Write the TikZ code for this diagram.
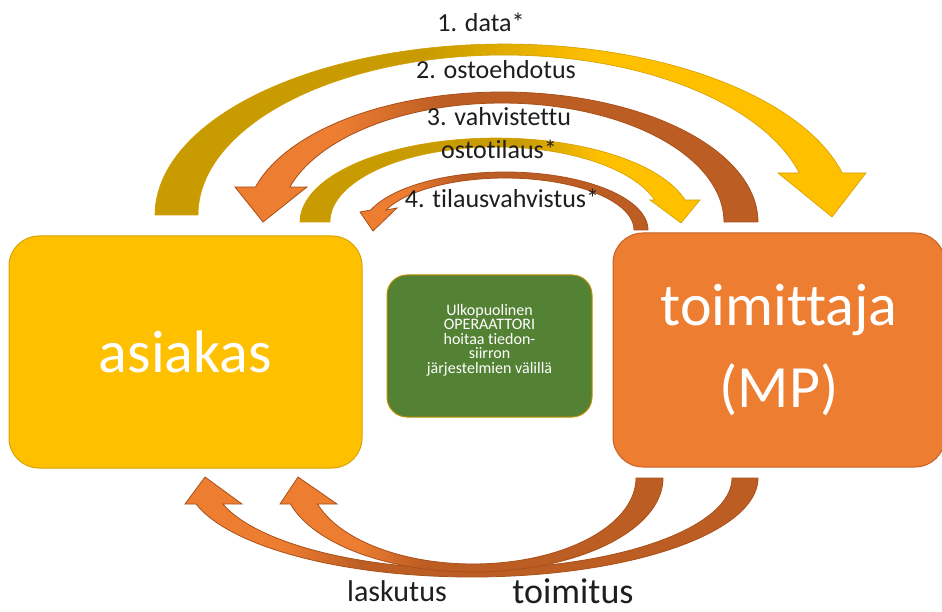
\documentclass[tikz,border=0pt]{standalone}
\usepackage{fontspec}
\setmainfont{Carlito}[Ligatures={NoCommon}]
\definecolor{gold}{HTML}{FFC000}
\definecolor{dgold}{HTML}{C89B00}
\definecolor{orng}{HTML}{ED7D31}
\definecolor{dorng}{HTML}{BC5D24}
\definecolor{olive}{HTML}{548235}
\definecolor{edgegold}{HTML}{BF9000}
\definecolor{edgeorng}{HTML}{A9501A}
\definecolor{lbltext}{HTML}{1E1E1E}
\pgfdeclarehorizontalshading{shA}{100bp}{color(0bp)=(dgold); color(44bp)=(dgold); color(56bp)=(gold); color(100bp)=(gold)}
\pgfdeclarehorizontalshading{shB}{100bp}{color(0bp)=(orng); color(35bp)=(orng); color(45bp)=(dorng); color(100bp)=(dorng)}
\pgfdeclarehorizontalshading{shC}{100bp}{color(0bp)=(dgold); color(52.5bp)=(dgold); color(62.5bp)=(gold); color(100bp)=(gold)}
\pgfdeclarehorizontalshading{shD}{100bp}{color(0bp)=(orng); color(32.5bp)=(orng); color(42.5bp)=(dorng); color(100bp)=(dorng)}
\pgfdeclarehorizontalshading{shE}{100bp}{color(0bp)=(orng); color(33.5bp)=(orng); color(40.5bp)=(dorng); color(100bp)=(dorng)}
\pgfdeclarehorizontalshading{shF}{100bp}{color(0bp)=(orng); color(35.5bp)=(orng); color(43.5bp)=(dorng); color(100bp)=(dorng)}
\tikzset{
  goldline/.style={draw=edgegold!70!gold, line width=0.6pt, line join=miter},
  orngline/.style={draw=edgeorng, line width=0.8pt, line join=miter},
  lbl/.style={font=\fontsize{26}{30}\selectfont, text=lbltext, anchor=base, inner sep=0pt},
  bigbox/.style={rectangle, rounded corners=30pt, line width=1pt, inner sep=0pt, text=white},
  greenbox/.style={rectangle, rounded corners=20pt, line width=1pt, fill=olive, draw=edgegold, minimum width=205pt, minimum height=142pt, inner sep=0pt},
  optext/.style={align=center, text=white, font=\fontsize{16}{14.5}\selectfont, inner sep=0pt}
}
\begin{document}
\begin{tikzpicture}[x=1pt,y=-1pt]
\useasboundingbox[fill=white] (0,0) rectangle (942,612);
% 1. data*
\shadedraw[shading=shA, goldline] plot[domain=180:14.22,samples=90] ({504+349*cos(\x)},{215-171*sin(\x)}) -- (866,173) -- (832,217) -- (778,173) -- plot[domain=15.22:180,samples=90] ({504+306*cos(\x)},{215-160*sin(\x)}) -- cycle;
% 2. ostoehdotus
\shadedraw[shading=shB, orngline] plot[domain=0:164.38,samples=80] ({502+256*cos(\x)},{222-130*sin(\x)}) -- (235,187) -- (263,222) -- (307,187) -- plot[domain=162.9:0,samples=80] ({502+222*cos(\x)},{222-119*sin(\x)}) -- cycle;
% 3. vahvistettu ostotilaus*
\shadedraw[shading=shC, goldline] plot[domain=180:15.18,samples=70] ({496+196*cos(\x)},{222-84*sin(\x)}) -- (700,200) -- (681,223) -- (650,200) -- plot[domain=17.06:180,samples=70] ({496+166*cos(\x)},{222-75*sin(\x)}) -- cycle;
% 4. tilausvahvistus*
\shadedraw[shading=shD, orngline] plot[domain=0:159.83,samples=60] ({505+143*cos(\x)},{230-58*sin(\x)}) -- (360,212) -- (373,231) -- (397,208) -- plot[domain=157.38:0,samples=60] ({505+129*cos(\x)},{230-52*sin(\x)}) -- cycle;
% bottom arrows
\shadedraw[shading=shE, orngline] plot[domain=0:164.77,samples=90] ({472+286*cos(\x)},{478+99*sin(\x)}) -- (185,504) -- (205,477) -- (242,504) -- plot[domain=163.4:0,samples=90] ({472+260*cos(\x)},{478+91*sin(\x)}) -- cycle;
\shadedraw[shading=shF, orngline] plot[domain=0:163.94,samples=80] ({473+190*cos(\x)},{478+94*sin(\x)}) -- (280,504) -- (298,477) -- (337,504) -- plot[domain=162.4:0,samples=80] ({473+163*cos(\x)},{478+86*sin(\x)}) -- cycle;
% boxes
\node[bigbox, fill=gold, draw=edgegold!60!gold, minimum width=353pt, minimum height=232pt, font=\fontsize{60}{72}\selectfont] (asiakas) at (185.5,352) {asiakas};
\node[bigbox, fill=orng, draw=edgeorng!60!orng, minimum width=332pt, minimum height=234pt, align=center, font=\fontsize{60}{82}\selectfont] (toimittaja) at (779,350) {toimittaja\\(MP)};
\node[greenbox] (oper) at (489.5,346) {};
\node[optext] (opertxt) at (489.5,340) {Ulkopuolinen\\OPERAATTORI\\hoitaa tiedon-\\siirron\\järjestelmien välillä};
% labels
\node[lbl] (l1) at (481,32) {1. data*};
\node[lbl] (l2) at (496,79) {2. ostoehdotus};
\node[lbl] (l3a) at (499,126) {3. vahvistettu};
\node[lbl] (l3b) at (499,159) {ostotilaus*};
\node[lbl] (l4) at (502,208) {4. tilausvahvistus*};
\node[lbl, font=\fontsize{30}{36}\selectfont] (lask) at (397,601) {laskutus};
\node[lbl, font=\fontsize{36}{44}\selectfont] (toimlbl) at (573,603) {toimitus};
\end{tikzpicture}
\end{document}
